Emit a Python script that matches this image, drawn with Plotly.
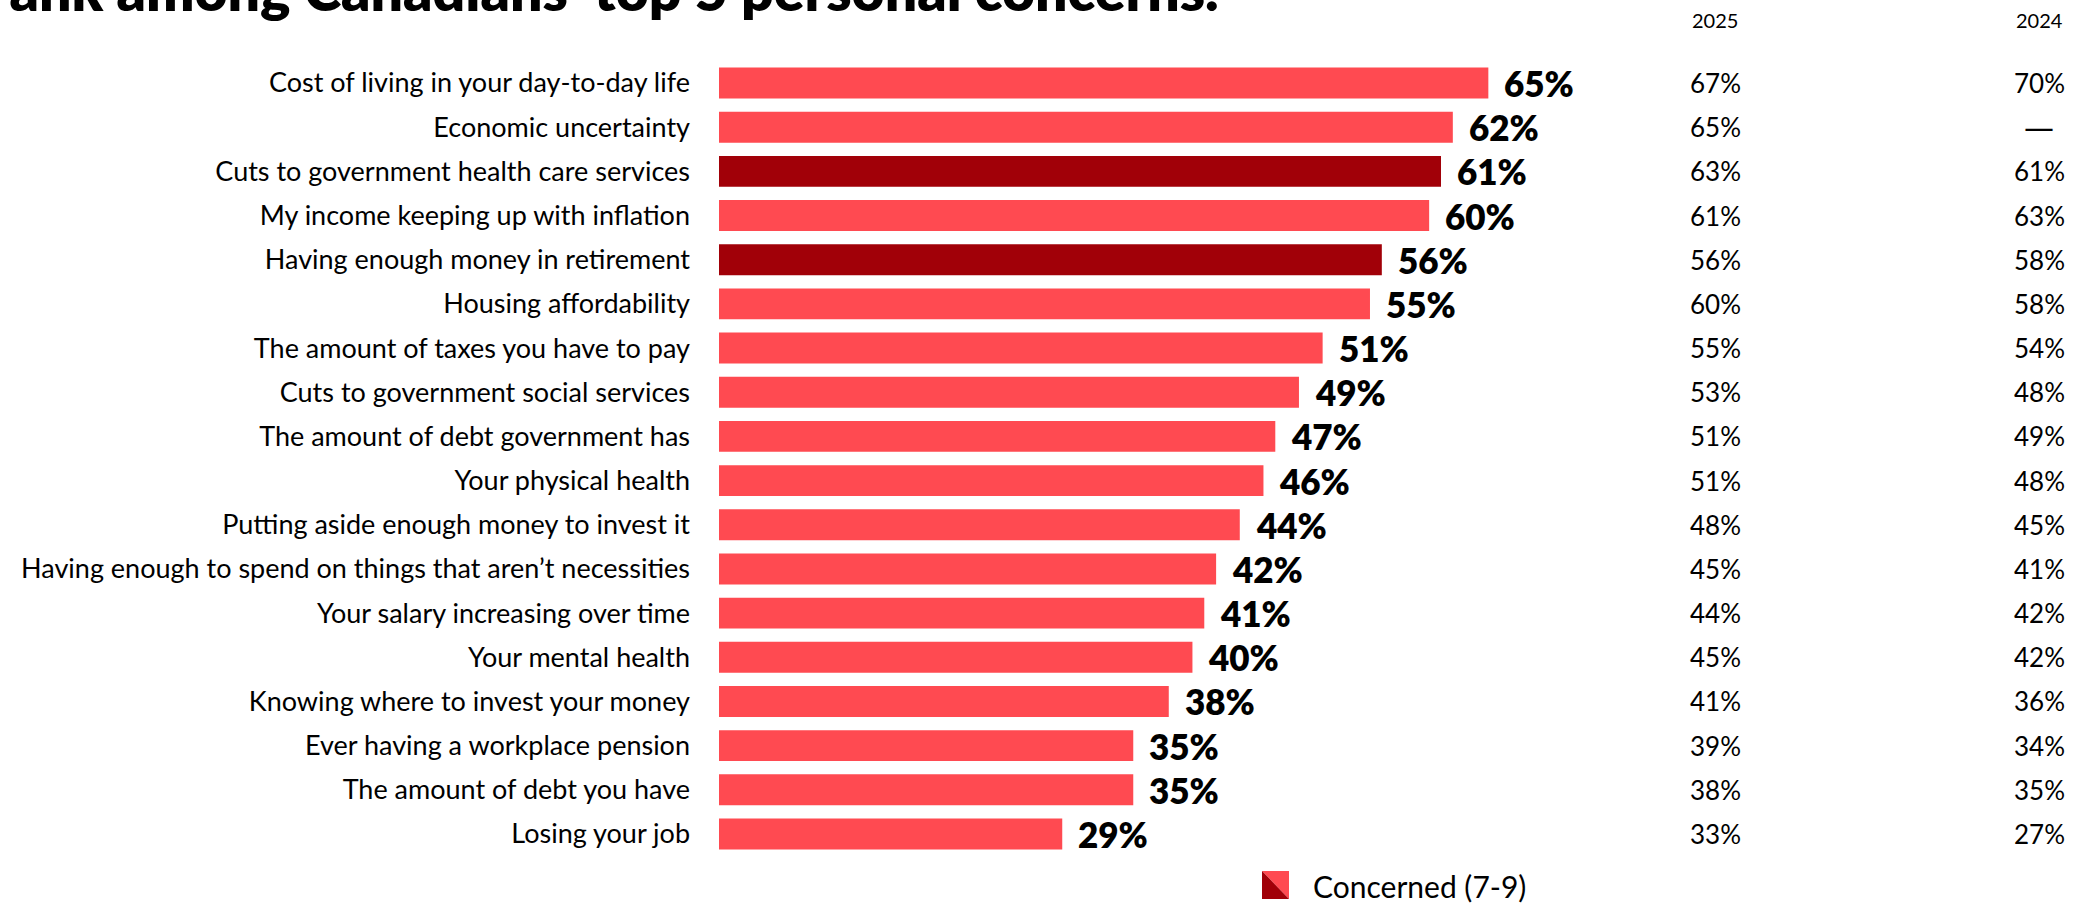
import plotly.graph_objects as go

# ---- data -------------------------------------------------------------
concerns = [
    "Cost of living in your day-to-day life",
    "Economic uncertainty",
    "Cuts to government health care services",
    "My income keeping up with inflation",
    "Having enough money in retirement",
    "Housing affordability",
    "The amount of taxes you have to pay",
    "Cuts to government social services",
    "The amount of debt government has",
    "Your physical health",
    "Putting aside enough money to invest it",
    "Having enough to spend on things that aren’t necessities",
    "Your salary increasing over time",
    "Your mental health",
    "Knowing where to invest your money",
    "Ever having a workplace pension",
    "The amount of debt you have",
    "Losing your job",
]
concerned_pct = [65, 62, 61, 60, 56, 55, 51, 49, 47, 46, 44, 42, 41, 40, 38, 35, 35, 29]
pct_2025 = [67, 65, 63, 61, 56, 60, 55, 53, 51, 51, 48, 45, 44, 45, 41, 39, 38, 33]
pct_2024 = [70, None, 61, 63, 58, 58, 54, 48, 49, 48, 45, 41, 42, 42, 36, 34, 35, 27]
highlighted = [False, False, True, False, True, False, False, False, False,
               False, False, False, False, False, False, False, False, False]
year_headers = ["2025", "2024"]
legend_label = "Concerned (7-9)"
title_text = "rank among Canadians’ top 5 personal concerns."

# ---- style / layout ---------------------------------------------------
W, H = 2088, 906
LEFT, RIGHT, TOP, BOTTOM = 719, 448, 60, 49
PLOT_W = W - LEFT - RIGHT
PLOT_H = H - TOP - BOTTOM
PX_PER_PCT = 11.836
X_MAX = PLOT_W / PX_PER_PCT

LIGHT = "#FF4A51"
DARK = "#A10008"
FONT = "Lato"
INK = "#000000"


def px_x(px):
    return (px - LEFT) / PLOT_W


def px_y(py):
    return (H - BOTTOM - py) / PLOT_H


colors = [DARK if h else LIGHT for h in highlighted]

fig = go.Figure(
    go.Bar(
        x=concerned_pct,
        y=concerns,
        orientation="h",
        marker=dict(color=colors, line=dict(width=0)),
        hoverinfo="skip",
        showlegend=False,
    )
)

annotations = []

# value labels at the bar ends
for name, v in zip(concerns, concerned_pct):
    annotations.append(dict(
        x=v, y=name, xref="x", yref="y", text=f"{v}%",
        xanchor="left", yanchor="middle", xshift=14, showarrow=False,
        font=dict(family=FONT, size=35, color=INK, weight=800),
    ))

# previous-year columns
col_centers = [1715, 2039]
for cx, header, series in zip(col_centers, year_headers, [pct_2025, pct_2024]):
    annotations.append(dict(
        x=px_x(cx), y=px_y(20), xref="paper", yref="paper", text=header,
        xanchor="center", yanchor="middle", showarrow=False,
        font=dict(family=FONT, size=20, color=INK),
    ))
    for name, v in zip(concerns, series):
        if v is None:
            annotations.append(dict(
                x=px_x(cx), y=name, xref="paper", yref="y", text="—",
                xanchor="center", yanchor="middle", showarrow=False,
                font=dict(family="DejaVu Sans", size=30, color=INK),
            ))
        else:
            annotations.append(dict(
                x=px_x(cx), y=name, xref="paper", yref="y", text=f"{v}%",
                xanchor="center", yanchor="middle", showarrow=False,
                font=dict(family=FONT, size=26, color=INK),
            ))

# title (runs off the top edge of the page)
annotations.append(dict(
    x=px_x(1220), y=px_y(24), xref="paper", yref="paper", text=title_text,
    xanchor="right", yanchor="bottom", showarrow=False, borderpad=0,
    font=dict(family=FONT, size=57, color=INK, weight=800),
))

# legend text
annotations.append(dict(
    x=px_x(1311), y=px_y(886), xref="paper", yref="paper", text=legend_label,
    xanchor="left", yanchor="middle", showarrow=False,
    font=dict(family=FONT, size=30, color=INK),
))

# legend swatch: two triangles split along the diagonal
sx0, sx1, sy0, sy1 = 1262, 1289, 871, 899
dark_tri = (f"M {px_x(sx0)} {px_y(sy0)} L {px_x(sx0)} {px_y(sy1)} "
            f"L {px_x(sx1)} {px_y(sy1)} Z")
light_tri = (f"M {px_x(sx0)} {px_y(sy0)} L {px_x(sx1)} {px_y(sy0)} "
             f"L {px_x(sx1)} {px_y(sy1)} Z")
shapes = [
    dict(type="path", path=light_tri, xref="paper", yref="paper",
         fillcolor=LIGHT, line=dict(width=0)),
    dict(type="path", path=dark_tri, xref="paper", yref="paper",
         fillcolor=DARK, line=dict(width=0)),
]

fig.update_layout(
    width=W, height=H,
    margin=dict(l=LEFT, r=RIGHT, t=TOP, b=BOTTOM, pad=0),
    paper_bgcolor="white", plot_bgcolor="white",
    bargap=0.3,
    xaxis=dict(range=[0, X_MAX], visible=False, fixedrange=True),
    yaxis=dict(
        autorange="reversed", showgrid=False, zeroline=False, showline=False,
        ticks="", ticklabelstandoff=28,
        tickfont=dict(family=FONT, size=27, color=INK),
        fixedrange=True,
    ),
    annotations=annotations,
    shapes=shapes,
    showlegend=False,
)

fig.write_html("out.html")
